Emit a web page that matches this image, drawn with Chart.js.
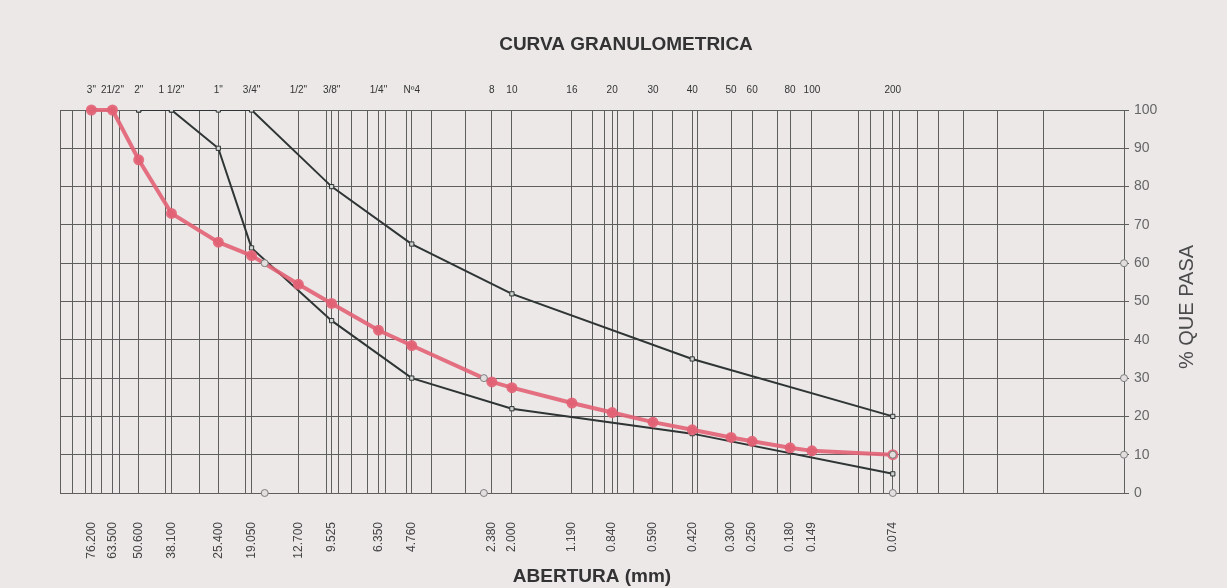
<!DOCTYPE html>
<html>
<head>
<meta charset="utf-8">
<title>Curva granulometrica</title>
<script src="https://cdn.jsdelivr.net/npm/chart.js@4/dist/chart.umd.min.js"></script>
<style>
html, body { margin: 0; padding: 0; background: #ece8e8; }
#wrap { width: 1227px; height: 588px; }
</style>
</head>
<body>
<div id="wrap"><canvas id="chart1" width="1227" height="588"></canvas></div>
<script>
/* tamices: nombre (eje de arriba) y abertura en mm (eje de abajo) */
const sieveNames = ['3"', '21/2"', '2"', '1 1/2"', '1"', '3/4"', '1/2"', '3/8"', '1/4"', 'Nº4',
  '8', '10', '16', '20', '30', '40', '50', '60', '80', '100', '200'];
const sieveSizes = [76.2, 63.5, 50.6, 38.1, 25.4, 19.05, 12.7, 9.525, 6.35, 4.76,
  2.38, 2.0, 1.19, 0.84, 0.59, 0.42, 0.3, 0.25, 0.18, 0.149, 0.074];

/* % que pasa de la muestra (curva roja) */
const muestraPasa = [100, 100, 87, 73, 65.5, 62, 54.5, 49.5, 42.5, 38.5,
  29, 27.5, 23.5, 21, 18.5, 16.5, 14.5, 13.5, 11.8, 11, 10];

/* limites de la banda granulometrica */
const limSizes = [50.6, 38.1, 25.4, 19.05, 9.525, 4.76, 2.0, 0.42, 0.074];
const limSuperior = [100, 100, 100, 100, 80, 65, 52, 35, 20];
const limInferior = [100, 100, 90, 64, 45, 30, 22, 15.5, 5];

/* D60, D30, D10 */
const dNames = ['D60', 'D30', 'D10'];
const dSizes = [17, 2.55, 0.074];
const dPasa = [60, 30, 10];

const xMin = 0.01;
const xMax = 100;

// lineas verticales del papel logaritmico + los tamices
// (se saltan las que caen casi encima de un tamiz)
let gridValues = sieveSizes.slice();
gridValues.push(xMax);
for (let k = -2; k < 2; k++) {
  for (let m = 1; m < 10; m++) {
    let v = +(m * Math.pow(10, k)).toFixed(4);
    let near = sieveSizes.some(s => Math.max(s, v) / Math.min(s, v) < 1.03);
    if (!near) gridValues.push(v);
  }
}
gridValues.sort((a, b) => b - a);

function toPoints(xs, ys) {
  let pts = [];
  for (let i = 0; i < xs.length; i++) pts.push({x: xs[i], y: ys[i]});
  return pts;
}

let dPoints = [];
for (let i = 0; i < dSizes.length; i++) {
  dPoints.push({x: dSizes[i], y: 0});
  dPoints.push({x: dSizes[i], y: dPasa[i]});
  dPoints.push({x: xMin, y: dPasa[i]});
}

const gridColor = '#5e5e5e';
const inkColor = '#2f3434';
const redColor = 'rgba(226, 98, 116, 0.9)';
const fontFam = '"Liberation Sans", Arial, sans-serif';

Chart.defaults.font.family = fontFam;
Chart.defaults.color = '#3a3a3a';

// titulo de arriba y titulo vertical del eje Y (se lee de abajo hacia arriba)
const textosPlugin = {
  id: 'textos',
  afterDraw(chart) {
    const ctx = chart.ctx;
    ctx.save();
    ctx.fillStyle = '#333';
    ctx.textAlign = 'center';
    ctx.textBaseline = 'middle';
    ctx.font = 'bold 19px ' + fontFam;
    ctx.fillText('CURVA GRANULOMETRICA', 626, 45);

    ctx.translate(1187, 307);
    ctx.rotate(-Math.PI / 2);
    ctx.font = '20px ' + fontFam;
    ctx.fillStyle = '#4a4a4a';
    ctx.fillText('% QUE PASA', 0, 0);
    ctx.restore();
  }
};

const data = {
  datasets: [
    {
      label: 'D',
      data: dPoints,
      showLine: false,
      pointStyle: 'circle',
      pointRadius: 3.5,
      pointBorderWidth: 1,
      pointBorderColor: '#7d7d7d',
      pointBackgroundColor: '#e2dede',
      clip: false
    },
    {
      label: 'Muestra',
      data: toPoints(sieveSizes, muestraPasa),
      showLine: true,
      borderColor: redColor,
      borderWidth: 4,
      pointRadius: 3.5,
      pointBackgroundColor: redColor,
      pointBorderColor: redColor,
      clip: false
    },
    {
      label: 'Limite superior',
      data: toPoints(limSizes, limSuperior),
      showLine: true,
      borderColor: inkColor,
      borderWidth: 2,
      pointStyle: 'rect',
      pointRadius: 3,
      pointBorderWidth: 1,
      pointBorderColor: inkColor,
      pointBackgroundColor: '#cfd3d0'
    },
    {
      label: 'Limite inferior',
      data: toPoints(limSizes, limInferior),
      showLine: true,
      borderColor: inkColor,
      borderWidth: 2,
      pointStyle: 'rect',
      pointRadius: 3,
      pointBorderWidth: 1,
      pointBorderColor: inkColor,
      pointBackgroundColor: '#cfd3d0'
    }
  ]
};

const config = {
  type: 'scatter',
  data: data,
  plugins: [textosPlugin],
  options: {
    responsive: false,
    animation: false,
    layout: { padding: { left: 60, right: 0, top: 0, bottom: 0 } },
    plugins: {
      legend: { display: false },
      tooltip: { enabled: false },
      title: { display: false }
    },
    scales: {
      x: {
        type: 'logarithmic',
        position: 'bottom',
        reverse: true,
        min: xMin,
        max: xMax,
        afterBuildTicks: (scale) => { scale.ticks = gridValues.map(v => ({value: v})) },
        afterFit: (scale) => { scale.height = 95 },
        grid: { color: gridColor, lineWidth: 1, drawTicks: false },
        border: { display: false },
        ticks: {
          autoSkip: false,
          minRotation: 90,
          maxRotation: 90,
          padding: 29,
          font: { size: 12 },
          color: '#444',
          callback: function(value) {
            return sieveSizes.indexOf(value) >= 0 ? value.toFixed(3) : '';
          }
        },
        title: {
          display: true,
          text: 'ABERTURA (mm)',
          color: '#333',
          font: { size: 19, weight: 'bold' },
          padding: { top: 0, bottom: 0 }
        }
      },
      x2: {
        type: 'logarithmic',
        position: 'top',
        reverse: true,
        min: xMin,
        max: xMax,
        afterBuildTicks: (scale) => { scale.ticks = sieveSizes.map(v => ({value: v})) },
        afterFit: (scale) => { scale.height = 110 },
        grid: { display: false, drawTicks: false },
        border: { display: false },
        ticks: {
          autoSkip: false,
          maxRotation: 0,
          minRotation: 0,
          padding: 14,
          font: { size: 10 },
          color: '#333',
          callback: function(value) {
            const i = sieveSizes.indexOf(value);
            return i >= 0 ? sieveNames[i] : '';
          }
        }
      },
      y: {
        position: 'right',
        min: 0,
        max: 100,
        afterFit: (scale) => { scale.width = 103 },
        grid: { color: gridColor, lineWidth: 1, drawTicks: true, tickLength: 5 },
        border: { display: false },
        ticks: {
          stepSize: 10,
          padding: 5,
          font: { size: 14 },
          color: '#666'
        }
      }
    }
  }
};

const myChart = new Chart(document.getElementById('chart1'), config);
</script>
</body>
</html>
